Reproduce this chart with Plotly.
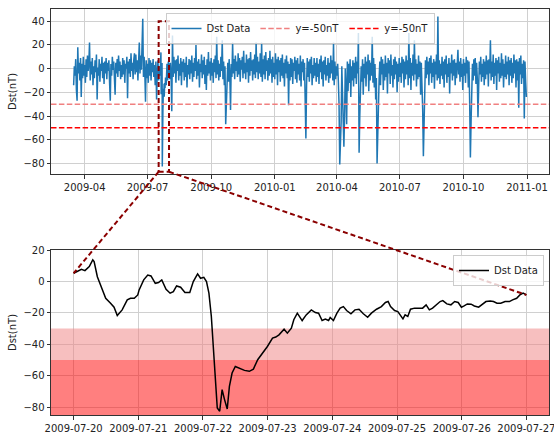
import pandas as pd
import plotly.graph_objects as go

# Daily Dst index (nT), one value per day from 2009-03-16 to 2010-12-31
daily_start = "2009-03-16"
dst_daily = [
    # 2009-03 (16-31)
    -14, 2, -6, 8, -18, -27, 18, -4, 5, -10, 9, -24, 4, -8, 10, -6,
    # 2009-04
    3, -12, 8, -7, 11, -2, 5, 22, -10, 6, -5, 9, -14, 2, -8, 7, -3, 12, -26, 1,
    -6, 8, -11, 4, -2, 10, -8, 5, -13, 6,
    # 2009-05
    -4, 9, -9, 5, -2, 7, -12, -27, 4, -6, 10, -1, 6, -10, -22, 5, -4, 8, -7, 11,
    -2, 6, -9, 3, -7, 9, -5, 7, -12, 4, 0,
    # 2009-06
    10, -25, 6, -4, 8, -7, 13, -2, 5, -9, 7, 13, -5, 12, -3, 7, -10, 9, 22, -4,
    11, -1, 14, 42, -7, 10, -4, -28, 7, -8,
    # 2009-07
    4, -12, 9, -6, 7, -10, 5, -3, 8, -7, 3, -14, 6, -26, -4, 7, -10, 2, -6, 5,
    -5, 3, -41, -24, -19, -16, -9, -14, 4, -10, 6,
    # 2009-08
    3, -9, 5, -6, -36, 28, -7, 10, -4, 7, -12, 8, -2, 11, -10, 4, -6, 9, -14, 6,
    -3, 8, -10, 5, -7, 10, -16, 3, -5, 8, -9,
    # 2009-09
    7, -4, 11, -11, 5, -7, 9, -2, 20, -9, 6, -6, 8, -16, 4, -3, 12, -8, 7, -5,
    10, -13, 3, -18, 8, -6, 14, -4, 6, -10,
    # 2009-10
    9, -6, 5, -12, 8, -3, 11, -8, 27, -5, 7, -10, 4, -7, 10, -2, 24, -9, 6, -14,
    2, -47, -31, -18, 5, -11, 8, -6, -35, 4, -7,
    # 2009-11
    22, -4, 8, -9, 11, -2, 6, -7, 13, -5, 9, -11, 7, -1, 10, -8, 15, -4, 5, -9,
    12, -3, 8, -12, 9, -6, 14, -2, 7, -10,
    # 2009-12
    8, -5, 12, -8, 22, -3, 10, -9, 6, -4, 13, -7, 22, -11, 8, -5, 11, -9, 14, -2,
    7, -10, 9, -6, 15, -4, 8, -12, 10, -7, 5,
    # 2010-01
    -9, 13, -5, 8, -14, 10, -3, 7, -11, 9, -6, 12, -8, 5, -15, 8, -4, 11, -8, 6,
    -31, 4, -10, 9, -7, 8, -13, 5, -2, 10, -9,
    # 2010-02
    7, -12, 9, -5, 4, -10, 11, -15, 6, -3, 8, -10, 5, -18, -59, -14, 9, -7, 6, -11,
    8, -4, 10, -14, 3, -8, 9, -6,
    # 2010-03
    5, -11, 9, -7, 4, -13, 8, -3, 11, -9, 6, -15, 7, -5, 10, -10, 3, -6, 9, -12,
    5, -8, 11, -4, 7, -10, 22, -14, 6, -9, 2,
    # 2010-04
    -6, 4, -11, -30, -81, -60, -45, 2, -20, -35, -66, -40, 0, -16, -47, 6, -19, 4, -12, 8,
    -24, 2, -10, 7, -15, 5, -8, 10, -13, 6,
    # 2010-05
    -4, 30, -71, -40, -18, 2, -11, 8, -22, 4, -8, 10, -15, 6, -5, 12, -19, 7, -10, 5,
    -6, 27, -12, 9, -16, 4, -26, -8, -80, -45, -22,
    # 2010-06
    -8, 6, -14, 10, -5, 8, -18, 4, -10, 11, -7, 5, -21, 9, -4, 7, -13, 12, -6, 3,
    -16, 8, -9, 10, -5, 6, -20, 4, -11, 9,
    # 2010-07
    -7, 5, -12, 10, -4, 8, -16, 6, -9, 11, -5, 7, -14, 30, -8, 9, -18, 5, -6, 12,
    -10, 24, -5, 8, -15, 4, -9, 11, -7, 6, -22,
    # 2010-08
    5, -10, -35, -74, -40, -16, 7, -8, 10, -5, 6, -14, 9, -4, 11, -12, 5, -7, 8, -17,
    6, -5, 12, -10, 44, -8, 7, -13, 4, -6, 10,
    # 2010-09
    -9, 6, -16, 8, -5, 11, -12, 4, -7, 9, -21, 5, -4, 12, -10, 7, -6, 8, -14, 5,
    -8, 10, 16, -5, 6, -11, 9, -7, 4, -18,
    # 2010-10
    8, -6, 5, -12, 10, -4, 7, -16, 6, -30, -75, -45, -18, 4, -10, 8, -6, 9, -13, 5,
    -8, -41, -16, 6, -5, 10, -11, 4, -7, 8, -14,
    # 2010-11
    6, -9, 11, -5, 7, -15, 8, -4, 24, -10, 6, -7, 12, -13, 5, -6, 9, -18, 7, -4,
    10, -11, 5, -8, 13, -6, 8, -16, 4, -7,
    # 2010-12
    11, -9, 6, -5, 10, -14, 7, -6, 9, -12, 5, -8, 12, -4, 7, -16, 8, -10, 6, -33,
    9, -5, 11, -13, 4, -8, 7, -42, 6, -11, -24,
]

# Storm of 2009-07-22: Dst (nT) at hour offsets from 2009-07-20 00:00
storm_start = "2009-07-20"
storm_hours = [
    0, 1.5, 2.9, 4.2, 5.8, 7.1, 7.6, 8.8, 10.3, 11.9, 13.7, 15.0, 16.2, 18.0, 19.9, 21.1,
    22.5, 23.8, 24.3, 26.0, 27.5, 28.7, 30.3, 31.5, 32.7, 34.3, 35.8, 37.0, 38.2, 39.7,
    41.3, 43.1, 44.4, 46.0, 47.1, 48.3, 49.3, 50.2, 51.1, 52.0, 52.7, 53.3, 54.2, 55.1,
    56.0, 57.0, 57.8, 58.8, 60.0, 61.5, 63.4, 65.2, 66.7, 68.3, 70.1, 71.9, 73.8, 75.0,
    76.2, 78.1, 79.3, 80.8, 81.7, 83.0, 84.8, 86.3, 88.2, 89.7, 90.9, 92.2, 93.4, 94.6,
    95.2, 96.4, 97.7, 98.9, 100.1, 101.3, 102.9, 104.4, 105.9, 107.5, 109.1, 110.5, 112.4,
    114.2, 115.7, 116.7, 117.6, 119.1, 120.3, 121.3, 122.2, 123.0, 124.0, 125.0, 126.5,
    128.0, 129.5, 130.8, 132.0, 133.2, 134.8, 136.0, 137.0, 138.5, 140.0, 141.4, 142.7,
    143.9, 144.9, 146.1, 147.5, 148.7, 150.3, 151.6, 153.0, 154.6, 155.8, 157.1, 158.5,
    160.1, 161.7, 162.9, 164.4, 165.6, 166.8, 168.0,
]
storm_dst = [
    5.2, 6.5, 7.7, 6.9, 9.4, 13.7, 12.6, 3.0, -4.3, -10.7, -13.9, -16.4, -21.7, -18.1, -11.7,
    -10.7, -10.7, -8.6, -5.4, 1.0, 4.1, 3.5, -1.2, -0.7, 1.0, -5.0, -7.5, -6.5, -2.9, -3.7,
    -7.1, -7.1, -0.1, 4.8, 2.0, 2.6, -0.1, -7.5, -22.3, -47.7, -71.0, -80.5, -82.6, -68.9,
    -75.2, -81.2, -66.8, -58.3, -54.1, -55.1, -56.6, -57.2, -55.8, -49.8, -45.6, -41.4,
    -36.1, -35.4, -34.0, -30.4, -32.9, -29.7, -24.4, -20.2, -24.9, -21.3, -18.1, -19.8,
    -20.2, -24.9, -24.0, -24.9, -23.0, -24.9, -20.2, -17.0, -16.0, -18.5, -20.6, -18.1,
    -17.7, -20.6, -22.8, -20.2, -17.7, -16.0, -13.4, -12.8, -16.0, -18.5, -19.2, -21.3,
    -23.8, -21.3, -22.3, -17.7, -17.0, -17.0, -17.0, -14.9, -18.1, -17.0, -14.3, -12.8,
    -12.2, -14.3, -14.9, -12.8, -13.4, -16.4, -15.6, -14.3, -14.5, -15.6, -16.4, -14.9,
    -12.8, -12.4, -12.8, -13.9, -13.9, -12.8, -12.8, -11.7, -10.7, -8.6, -7.5, -8.6,
]

# Storm thresholds drawn in the upper panel and shaded in the lower one
thresholds = [-30, -50]
threshold_names = ["y=-50nT", "y=-50nT"]
threshold_colors = ["lightcoral", "red"]
band_fills = ["lightcoral", "red"]
band_floor = -100
lower_ylim = [-85, 20]

# Box marking the storm in the overview
box_dates = ["2009-07-17", "2009-08-01"]
box_dst = [-87, 40]

BLUE = "#1f77b4"
DARKRED = "darkred"
FONT = "DejaVu Sans"
W, H = 554, 434

daily = pd.Series(dst_daily, index=pd.date_range(daily_start, periods=len(dst_daily), freq="D"))
storm = pd.Series(storm_dst, index=pd.Timestamp(storm_start) + pd.to_timedelta(storm_hours, unit="h"))
overview = pd.concat([daily[daily.index < storm.index[0]], storm, daily[daily.index > storm.index[-1]]])


def padded(lo, hi, frac=0.05):
    span = hi - lo
    return [lo - frac * span, hi + frac * span]


x1_rng = padded(overview.index[0], overview.index[-1])
y1_rng = padded(overview.min(), overview.max())
x2_rng = padded(storm.index[0], storm.index[-1])
y2_rng = lower_ylim

X_DOM = [51 / W, 549 / W]
Y1_DOM = [1 - 174 / H, 1 - 9 / H]
Y2_DOM = [1 - 415 / H, 1 - 250 / H]


def frac_t(t, rng):
    t = pd.Timestamp(t)
    return (t.value - rng[0].value) / (rng[1].value - rng[0].value)


def paper_x(t, rng):
    return X_DOM[0] + frac_t(t, rng) * (X_DOM[1] - X_DOM[0])


def paper_y(v, rng, dom):
    return dom[0] + (v - rng[0]) / (rng[1] - rng[0]) * (dom[1] - dom[0])


fig = go.Figure()

fig.add_trace(go.Scatter(
    x=overview.index, y=overview.values, mode="lines", name="Dst Data",
    line=dict(color=BLUE, width=1.5), xaxis="x", yaxis="y", legend="legend",
))
for lvl, name, col in zip(thresholds, threshold_names, threshold_colors):
    fig.add_trace(go.Scatter(
        x=[x1_rng[0], x1_rng[1]], y=[lvl, lvl], mode="lines", name=name,
        line=dict(color=col, width=1.5, dash="5.5px,2.4px"), xaxis="x", yaxis="y",
        legend="legend",
    ))
fig.add_trace(go.Scatter(
    x=storm.index, y=storm.values, mode="lines", name="Dst Data",
    line=dict(color="black", width=1.5), xaxis="x2", yaxis="y2", legend="legend2",
))

shapes = []
# shaded storm bands in the lower panel, above the grid and below the curve
band_tops = thresholds
band_bottoms = thresholds[1:] + [band_floor]
for top, bot, col in zip(band_tops, band_bottoms, band_fills):
    shapes.append(dict(type="rect", xref="x2", yref="y2",
                       x0=str(x2_rng[0]), x1=str(x2_rng[1]), y0=bot, y1=top,
                       fillcolor=col, opacity=0.5, line=dict(width=0), layer="between"))

dash_style = dict(color=DARKRED, width=2, dash="5px,3px")
shapes.append(dict(type="rect", xref="x", yref="y", x0=box_dates[0], x1=box_dates[1],
                   y0=box_dst[0], y1=box_dst[1], line=dash_style, layer="above"))
# connectors from the box corners to the ends of the zoomed curve
for corner, end in [(box_dates[0], storm.index[0]), (box_dates[1], storm.index[-1])]:
    shapes.append(dict(
        type="line", xref="paper", yref="paper",
        x0=paper_x(corner, x1_rng), y0=paper_y(box_dst[0], y1_rng, Y1_DOM),
        x1=paper_x(end, x2_rng), y1=paper_y(storm[end], y2_rng, Y2_DOM),
        line=dash_style, layer="above",
    ))

axis_common = dict(
    showgrid=True, gridcolor="#d0d0d0", gridwidth=1, automargin=False,
    showline=True, linecolor="#333333", linewidth=1, mirror=True,
    ticks="outside", ticklen=3.5, tickwidth=1, tickcolor="#333333",
    tickfont=dict(family=FONT, size=10, color="#222222"), zeroline=False,
)
title_font = dict(family=FONT, size=10, color="#222222")
legend_common = dict(bgcolor="rgba(255,255,255,0.8)", bordercolor="#cccccc", borderwidth=1,
                     font=dict(family=FONT, size=10, color="#222222"), tracegroupgap=0)

fig.update_layout(
    width=W, height=H, margin=dict(l=0, r=0, t=0, b=0, autoexpand=False),
    paper_bgcolor="white", plot_bgcolor="white",
    font=dict(family=FONT, size=10, color="#222222"),
    xaxis=dict(axis_common, domain=X_DOM, anchor="y", type="date",
               range=[str(x1_rng[0]), str(x1_rng[1])],
               tick0="2009-01-01", dtick="M3", tickformat="%Y-%m"),
    yaxis=dict(axis_common, domain=Y1_DOM, anchor="x", range=y1_rng, tick0=0, dtick=20,
               title=dict(text="Dst(nT)", font=title_font, standoff=4)),
    xaxis2=dict(axis_common, domain=X_DOM, anchor="y2", type="date",
                range=[str(x2_rng[0]), str(x2_rng[1])], ticklabeloverflow="allow",
                tick0="2009-07-20", dtick=86400000, tickformat="%Y-%m-%d"),
    yaxis2=dict(axis_common, domain=Y2_DOM, anchor="x2", range=y2_rng, tick0=0, dtick=20,
                title=dict(text="Dst(nT)", font=title_font, standoff=4)),
    legend=dict(legend_common, orientation="h", x=300 / W, xanchor="center",
                y=1 - 13 / H, yanchor="top"),
    legend2=dict(legend_common, x=544 / W, xanchor="right",
                 y=1 - 255 / H, yanchor="top"),
    shapes=shapes,
    showlegend=True,
)

fig.write_html("out.html")
